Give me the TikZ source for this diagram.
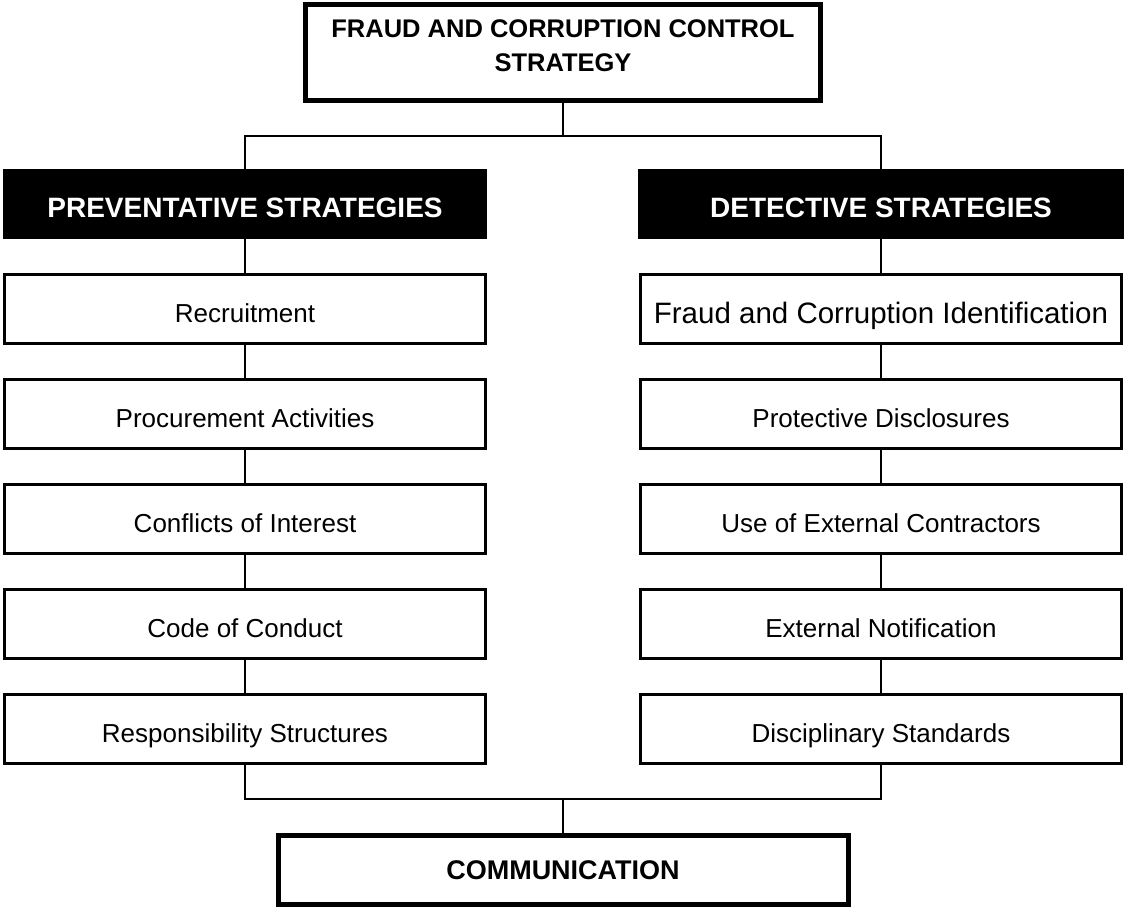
\documentclass[tikz,border=0pt]{standalone}
\usepackage{fontspec}
\setmainfont{Liberation Sans}
\usepackage{tikz}

\tikzset{
  mainbox/.style={draw, line width=5pt, inner sep=0pt, align=center,
    font=\fontsize{25.5}{34}\selectfont\bfseries},
  headbox/.style={fill=black, text=white, inner sep=0pt, text height=27pt, text depth=0pt,
    minimum height=70pt, font=\fontsize{28}{30}\selectfont\bfseries},
  itembox/.style={draw, line width=3pt, fill=white, inner sep=0pt, text height=26pt, text depth=0pt,
    minimum width=481pt, minimum height=69pt, font=\fontsize{26}{30}\selectfont},
  link/.style={line width=2pt}
}

\begin{document}
\begin{tikzpicture}[x=1pt, y=-1pt]
    \useasboundingbox (0,0) rectangle (1124,911);
    \node[mainbox, minimum width=515pt, minimum height=96pt, text depth=14pt] (strategy) at (563,52.5)
      {FRAUD AND CORRUPTION CONTROL\\STRATEGY};
    \coordinate (split) at (563,136);
    \node[headbox, minimum width=484pt] (prev) at (245,204) {PREVENTATIVE STRATEGIES};
    \node[headbox, minimum width=486pt] (detect) at (881,204) {DETECTIVE STRATEGIES};

    \node[itembox] (p1) at (245,309) {Recruitment};
    \node[itembox] (p2) at (245,414) {Procurement Activities};
    \node[itembox] (p3) at (245,519) {Conflicts of Interest};
    \node[itembox] (p4) at (245,624) {Code of Conduct};
    \node[itembox] (p5) at (245,729) {Responsibility Structures};

    \node[itembox, font=\fontsize{29.5}{30}\selectfont, text height=28pt] (d1) at (881,309) {Fraud and Corruption Identification};
    \node[itembox] (d2) at (881,414) {Protective Disclosures};
    \node[itembox] (d3) at (881,519) {Use of External Contractors};
    \node[itembox] (d4) at (881,624) {External Notification};
    \node[itembox] (d5) at (881,729) {Disciplinary Standards};

    \coordinate (join) at (563,799);
    \node[mainbox, minimum width=570pt, minimum height=69pt, font=\fontsize{27}{30}\selectfont\bfseries] (comm) at (563,870) {COMMUNICATION};

    \draw[link] (strategy.south) -- (split);
    \draw[link] (prev.north) |- (split) -| (detect.north);
    \draw[link] (prev.south) -- (p1.north);
    \draw[link] (p1) -- (p2) (p2) -- (p3) (p3) -- (p4) (p4) -- (p5);
    \draw[link] (detect.south) -- (d1.north);
    \draw[link] (d1) -- (d2) (d2) -- (d3) (d3) -- (d4) (d4) -- (d5);
    \draw[link] (p5.south) |- (join) -| (d5.south);
    \draw[link] (join) -- (comm.north);
\end{tikzpicture}
\end{document}
